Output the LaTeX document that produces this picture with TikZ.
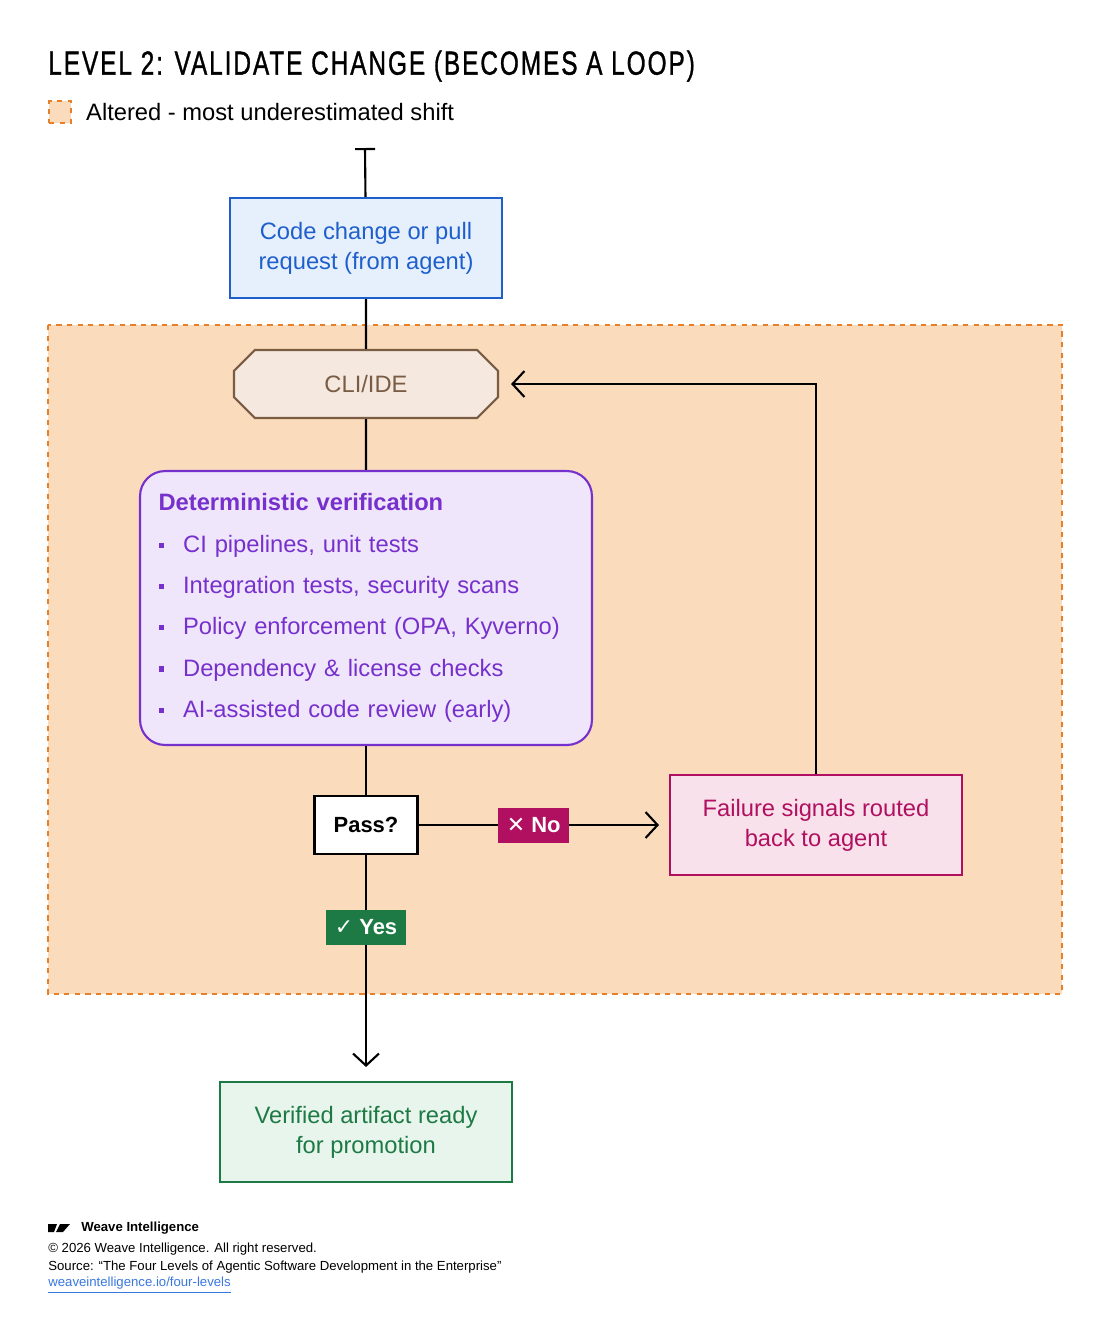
\documentclass[tikz,border=0pt]{standalone}
\usepackage{fontspec}
\setmainfont{Liberation Sans}
\newfontfamily\symfont{DejaVu Sans}
\usetikzlibrary{arrows.meta,shapes.misc}
\definecolor{areafill}{HTML}{FADCBC}
\definecolor{arealine}{HTML}{E8802A}
\definecolor{codeblue}{HTML}{1F5FCC}
\definecolor{codefill}{HTML}{E6F0FD}
\definecolor{clibrown}{HTML}{7A5C44}
\definecolor{clifill}{HTML}{F5E8DF}
\definecolor{verpurple}{HTML}{7630CC}
\definecolor{verfill}{HTML}{F0E6FC}
\definecolor{failred}{HTML}{B0105F}
\definecolor{failfill}{HTML}{F9E1EC}
\definecolor{okgreen}{HTML}{1E7A45}
\definecolor{okfill}{HTML}{E8F5EC}
\definecolor{linkblue}{HTML}{3A78E0}
\tikzset{
  box/.style={draw, line width=1.2pt, minimum width=5.84cm, minimum height=2cm,
    align=center, font=\fontsize{13.5}{17}\selectfont},
  tag/.style={text=white, font=\bfseries\fontsize{12.5}{14}\selectfont,
    minimum height=0.7cm, inner xsep=5pt},
  flow/.style={line width=1.2pt},
  tip/.style={-{Straight Barb[length=2.4mm,width=5.2mm,line width=1.2pt]}}
}
\newcommand{\sqb}{\raisebox{2.5pt}{\rule{3pt}{3pt}}\hspace{11pt}}
\begin{document}
\begin{tikzpicture}[x=0.02cm,y=-0.02cm]
\useasboundingbox[fill=white] (0,0) rectangle (1110,1340);

% title and legend
\node[anchor=west, inner sep=0, font=\fontsize{19}{22}\selectfont] (title) at (48,66)
  {\addfontfeature{LetterSpace=8,FakeBold=1.2}\scalebox{0.73}[1]{LEVEL 2: VALIDATE CHANGE (BECOMES A LOOP)}};
\node[draw=arealine, fill=areafill, dashed, line width=0.8pt, minimum size=0.44cm, inner sep=0] (legend) at (60,112) {};
\node[anchor=west, font=\fontsize{13.5}{16}\selectfont] (legendtext) at (80,112) {Altered - most underestimated shift};

% altered area
\draw[arealine, fill=areafill, dashed, line width=1pt] (48,325) rectangle (1062,994);

\coordinate (start) at (365,148);
\node[box, draw=codeblue, fill=codefill, text=codeblue, minimum width=5.44cm] (code) at (366,248)
  {Code change or pull\\request (from agent)};
\node[draw=clibrown, fill=clifill, line width=1.2pt, chamfered rectangle, chamfered rectangle xsep=0.4cm,
  minimum width=5.28cm, minimum height=1.36cm, text=clibrown, font=\fontsize{13.5}{16}\selectfont] (cli) at (366,384) {CLI/IDE};
\node[draw=verpurple, fill=verfill, text=verpurple, line width=1.2pt, rounded corners=0.5cm,
  minimum width=9.04cm, minimum height=5.48cm, text width=8.3cm, align=left,
  font=\fontsize{13.5}{23.5}\selectfont] (verify) at (366,608)
  {{\bfseries Deterministic verification}\\
   \sqb CI pipelines, unit tests\\
   \sqb Integration tests, security scans\\
   \sqb Policy enforcement (OPA, Kyverno)\\
   \sqb Dependency \& license checks\\
   \sqb AI-assisted code review (early)};
\node[draw, fill=white, line width=1.2pt, minimum width=2.06cm, minimum height=1.16cm,
  font=\bfseries\fontsize{12.5}{14}\selectfont] (pass) at (366,825) {Pass?};
\node[box, draw=failred, fill=failfill, text=failred] (fail) at (816,825)
  {Failure signals routed\\back to agent};
\node[box, draw=okgreen, fill=okfill, text=okgreen] (done) at (366,1132)
  {Verified artifact ready\\for promotion};

% connectors
\draw[flow, {Bar[width=4mm,line width=1.2pt]}-] (start) -- (code);
\draw[flow] (code) -- (cli);
\draw[flow] (cli) -- (verify);
\draw[flow] (verify) -- (pass);
\draw[flow, tip, shorten >=0.2cm] (pass) -- node[tag, fill=failred, pos=0.46] (no) {{\symfont ✕} No} (fail);
\draw[flow, tip, shorten >=0.28cm] (pass) -- node[tag, fill=okgreen, pos=0.32] (yes) {{\symfont ✓} Yes} (done);
\draw[flow, tip, shorten >=0.24cm] (fail.north) |- (cli.east);

% footer
\fill (48,1224) -- (57,1224) -- (54,1232) -- (48,1232) -- cycle;
\fill (56,1232) -- (60,1224) -- (70,1224) -- (63,1232) -- cycle;
\node[anchor=west, inner sep=0, font=\bfseries\fontsize{7.5}{9}\selectfont] (brand) at (81,1228) {Weave Intelligence};
\node[anchor=west, inner sep=0, font=\fontsize{7.5}{9}\selectfont] (copy) at (48,1249) {© 2026 Weave Intelligence. All right reserved.};
\node[anchor=west, inner sep=0, font=\fontsize{7.5}{9}\selectfont] (source) at (48,1267)
  {Source: “The Four Levels of Agentic Software Development in the Enterprise”};
\node[anchor=west, inner sep=0, text=linkblue, font=\fontsize{7.5}{9}\selectfont] (link) at (48,1285)
  {\underline{weaveintelligence.io/four-levels}};
\end{tikzpicture}
\end{document}
